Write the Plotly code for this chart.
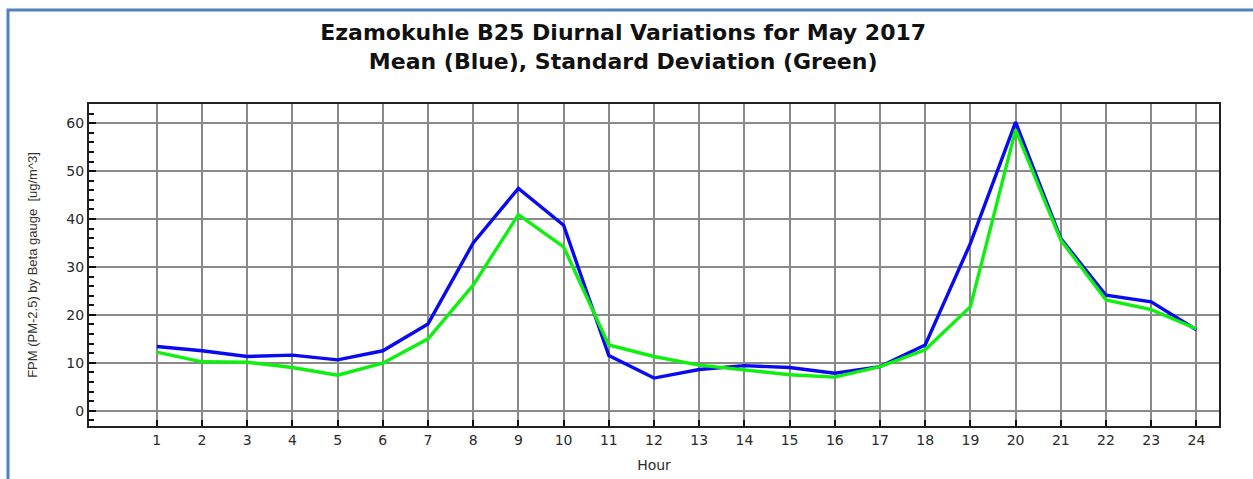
import plotly.graph_objects as go

# Hourly diurnal statistics of PM2.5 (ug/m^3), May 2017
hours = list(range(1, 25))
mean_values = [13.4, 12.5, 11.3, 11.6, 10.6, 12.5, 18.1, 35.0, 46.4, 38.7,
               11.5, 6.8, 8.6, 9.4, 9.0, 7.8, 9.2, 13.7, 34.9, 60.2,
               35.9, 24.1, 22.7, 16.9]
std_values = [12.2, 10.2, 10.1, 9.0, 7.4, 9.9, 15.0, 26.2, 40.9, 34.2,
              13.7, 11.3, 9.5, 8.5, 7.5, 7.0, 9.2, 12.7, 21.7, 58.6,
              35.6, 23.1, 21.1, 17.1]
y_ticks = [0, 10, 20, 30, 40, 50, 60]

title_lines = ["Ezamokuhle B25 Diurnal Variations for May 2017",
               "Mean (Blue), Standard Deviation (Green)"]

fig = go.Figure()
fig.add_trace(go.Scatter(x=hours, y=mean_values, mode="lines",
                         line=dict(color="#0a0af0", width=3.4), name="Mean"))
fig.add_trace(go.Scatter(x=hours, y=std_values, mode="lines",
                         line=dict(color="#10f010", width=3.4), name="Std Dev"))

W, H = 1253, 479
ml, mr, mt, mb = 89, 34, 104, 53
pw, ph = W - ml - mr, H - mt - mb


def px_x(x):
    return (x - ml) / pw


def px_y(y):
    return (H - mb - y) / ph


fig.update_layout(
    width=W, height=H,
    margin=dict(l=ml, r=mr, t=mt, b=mb, autoexpand=False),
    paper_bgcolor="white", plot_bgcolor="white",
    showlegend=False,
    font=dict(family="DejaVu Sans", color="#222222"),
    title=dict(
        text="<br>".join(title_lines),
        x=px_x(651), xanchor="center",
        y=1 - 40 / H, yanchor="middle",
        font=dict(family="DejaVu Sans", size=22, color="#111111", weight="bold"),
    ),
    xaxis=dict(
        range=[-0.5, 24.5], tickvals=hours, ticktext=[str(h) for h in hours],
        showgrid=True, gridcolor="#8a8a8a", gridwidth=1.6,
        showline=True, linecolor="#222222", linewidth=2, mirror=True,
        ticks="inside", ticklen=6, tickwidth=2, tickcolor="#111111",
        tickfont=dict(size=14, color="#2a2a2a"),
        zeroline=False, automargin=False,
        title=dict(text="Hour", font=dict(size=14, color="#2a2a2a"), standoff=13),
    ),
    yaxis=dict(
        range=[-3.2, 64], tickvals=y_ticks,
        showgrid=True, gridcolor="#8a8a8a", gridwidth=1.6,
        showline=True, linecolor="#222222", linewidth=2, mirror=True,
        ticks="inside", ticklen=7, tickwidth=2, tickcolor="#111111",
        minor=dict(dtick=2, ticks="inside", ticklen=5, tickwidth=1.5,
                   tickcolor="#111111", showgrid=False),
        tickfont=dict(size=14, color="#2a2a2a"),
        zeroline=False, automargin=False,
        title=dict(text="FPM (PM-2.5) by Beta gauge  [ug/m^3]",
                   font=dict(family="Liberation Sans", size=13, color="#333333"),
                   standoff=26),
    ),
)

# Framing border around the chart
fig.add_shape(type="rect", xref="paper", yref="paper",
              x0=px_x(8), x1=px_x(1270), y0=px_y(495), y1=px_y(10),
              line=dict(color="#4f81bd", width=3), layer="above")

fig.write_html("out.html")
